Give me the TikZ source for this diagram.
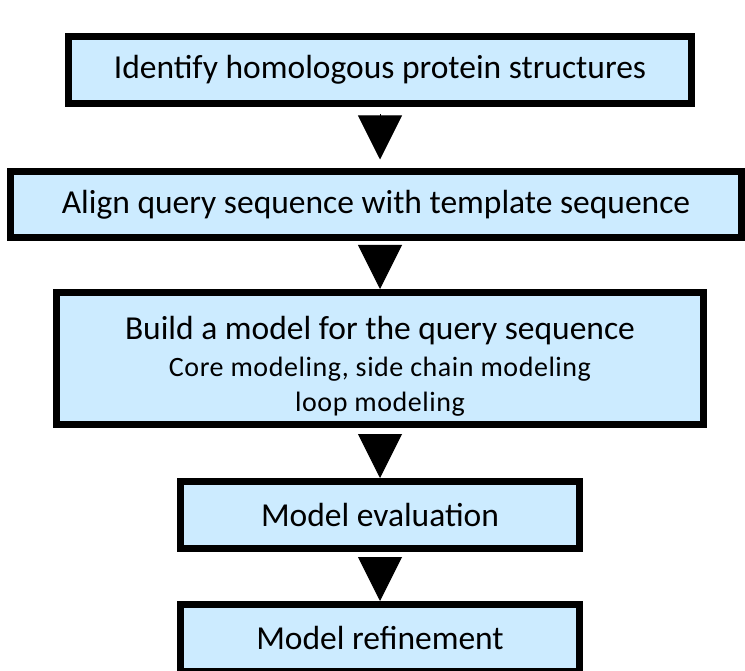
\documentclass[tikz,border=0pt]{standalone}
\usepackage{fontspec}
\setmainfont{Carlito}
\usepackage{tikz}
\usetikzlibrary{arrows.meta,positioning}
\definecolor{stagefill}{RGB}{204,235,255}
\tikzset{stage/.style={draw=black,line width=7pt,fill=stagefill,align=center,
 inner sep=0pt,font=\fontsize{33.5}{40}\selectfont},
 arr/.style={-{Triangle[length=44pt,width=44pt]},line width=1pt,black}}
\newcommand{\subline}{\fontsize{28}{34}\selectfont\addfontfeature{LetterSpace=2}}

\begin{document}
\begin{tikzpicture}[x=1pt,y=-1pt]
\useasboundingbox (0,0) rectangle (745,671);
\node[stage,minimum width=623pt,minimum height=67pt] (ident) at (380,70) {Identify homologous protein structures};
\node[stage,minimum width=731pt,minimum height=66pt] (align) at (376,205) {Align query sequence with template sequence};
\node[stage,minimum width=647pt,minimum height=132pt] (build) at (380,358.5) {\rule{0pt}{39pt}Build a model for the query sequence\\[-3pt]
 {\subline Core modeling, side chain modeling}\\[-5pt]
 {\subline loop modeling}};
\node[stage,minimum width=399pt,minimum height=67pt] (eval) at (380,515) {Model evaluation};
\node[stage,minimum width=399pt,minimum height=67pt] (refine) at (380,638) {Model refinement};
\draw[arr,shorten <=7pt,shorten >=9pt] (ident.south) -- (ident.south |- align.north);
\draw[arr,shorten <=8pt] (build.north |- align.south) -- (build.north);
\draw[arr,shorten <=9pt] (build.south) -- (eval.north);
\draw[arr,shorten <=8pt] (eval.south) -- (refine.north);
\end{tikzpicture}
\end{document}
